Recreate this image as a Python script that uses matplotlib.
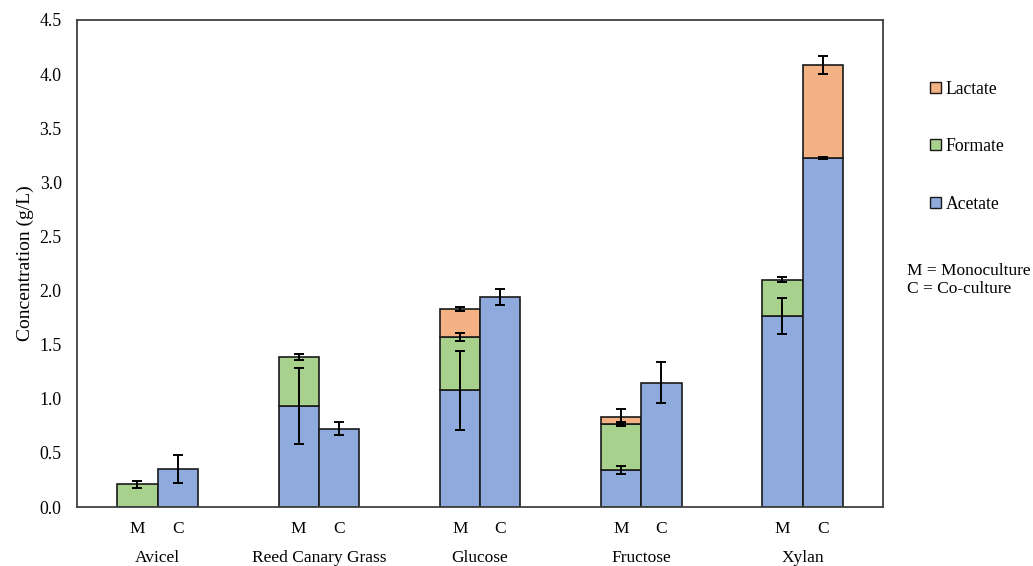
import numpy as np
import matplotlib
matplotlib.use("Agg")
import matplotlib.pyplot as plt
from matplotlib.patches import Patch

plt.rcParams['font.family'] = ['Liberation Serif', 'DejaVu Serif']

# categories and stacked values (g/L), M = monoculture, C = co-culture
categories = ["Avicel", "Reed Canary Grass", "Glucose", "Fructose", "Xylan"]

acetate_m = [0.0, 0.93, 1.08, 0.34, 1.765]
acetate_m_err = [0.0, 0.35, 0.365, 0.035, 0.165]
formate_m = [0.21, 0.455, 0.49, 0.425, 0.335]
formate_m_err = [0.035, 0.03, 0.04, 0.02, 0.025]
lactate_m = [0.0, 0.0, 0.26, 0.07, 0.0]
lactate_m_err = [0.0, 0.0, 0.02, 0.07, 0.0]

acetate_c = [0.35, 0.725, 1.94, 1.15, 3.225]
acetate_c_err = [0.13, 0.06, 0.075, 0.19, 0.005]
formate_c = [0.0, 0.0, 0.0, 0.0, 0.0]
formate_c_err = [0.0, 0.0, 0.0, 0.0, 0.0]
lactate_c = [0.0, 0.0, 0.0, 0.0, 0.86]
lactate_c_err = [0.0, 0.0, 0.0, 0.0, 0.085]

colors = {"Acetate": "#8FAADC", "Formate": "#A9D18E", "Lactate": "#F4B183"}

fig = plt.figure(figsize=(10.33, 5.66), dpi=100)
ax = fig.add_axes([0.0745, 0.1042, 0.7805, 0.8605])

x = np.arange(len(categories))
w = 0.25


def draw_stack(xpos, series):
    bottom = np.zeros(len(xpos))
    for name, vals, errs in series:
        vals = np.array(vals)
        errs = np.array(errs)
        keep = vals > 0
        ax.bar(xpos[keep], vals[keep], w, bottom=bottom[keep],
               color=colors[name], edgecolor="#1a1a1a", linewidth=1.2, zorder=2)
        tops = bottom + vals
        ax.errorbar(xpos[keep], tops[keep], yerr=errs[keep], fmt="none",
                    ecolor="black", elinewidth=1.4, capsize=3.5, capthick=1.4, zorder=3)
        bottom = tops


draw_stack(x - w / 2, [("Acetate", acetate_m, acetate_m_err),
                       ("Formate", formate_m, formate_m_err),
                       ("Lactate", lactate_m, lactate_m_err)])
draw_stack(x + w / 2, [("Acetate", acetate_c, acetate_c_err),
                       ("Formate", formate_c, formate_c_err),
                       ("Lactate", lactate_c, lactate_c_err)])

ax.set_xlim(-0.5, 4.5)
ax.set_ylim(0, 4.5)
ax.set_yticks(np.arange(0, 4.51, 0.5))
ax.set_yticklabels([f"{v:.1f}" for v in np.arange(0, 4.51, 0.5)], fontsize=12.8)
ax.tick_params(axis="y", length=0, pad=11)

mc_pos = np.ravel(np.column_stack([x - w / 2, x + w / 2]))
ax.set_xticks(mc_pos)
ax.set_xticklabels(["M", "C"] * len(categories), fontsize=12.5)
ax.tick_params(axis="x", length=0, pad=10)

for i, cat in enumerate(categories):
    ax.text(i, -0.104, cat, transform=ax.get_xaxis_transform(),
            ha="center", va="center", fontsize=12.5)

ax.set_ylabel("Concentration (g/L)", fontsize=14, labelpad=4)

for s in ax.spines.values():
    s.set_color("#404040")
    s.set_linewidth(1.3)

handles = [Patch(facecolor=colors[n], edgecolor="#1a1a1a", linewidth=1.0, label=n)
           for n in ["Lactate", "Formate", "Acetate"]]
fig.legend(handles=handles, loc="center left", bbox_to_anchor=(0.885, 0.741),
           frameon=False, fontsize=12.7, handlelength=0.6, handleheight=0.6,
           handletextpad=0.3, labelspacing=2.3)

fig.text(0.878, 0.505, "M = Monoculture\nC = Co-culture", fontsize=12.5,
         ha="left", va="center", linespacing=1.15)

fig.savefig("out.png", dpi=100)
